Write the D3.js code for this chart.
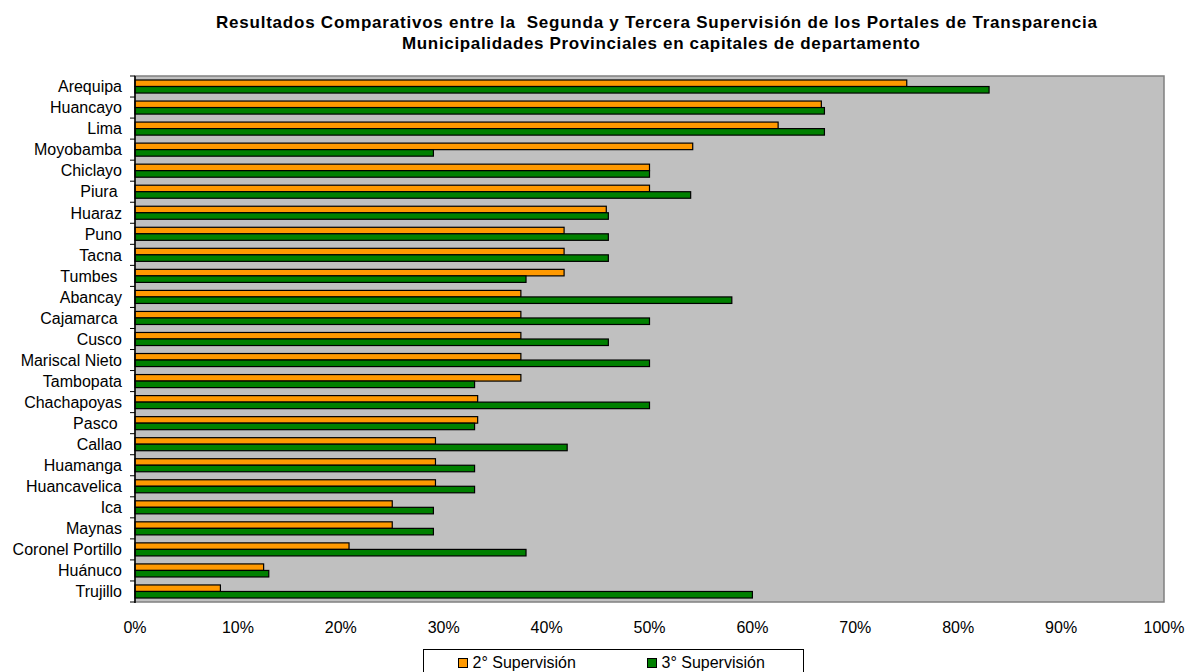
<!DOCTYPE html>
<html>
<head>
<meta charset="utf-8">
<script src="https://cdn.jsdelivr.net/npm/d3@7"></script>
<style>
  body { margin: 0; background: #fff; }
  svg { font-family: "Liberation Sans", Arial, sans-serif; }
</style>
</head>
<body>
<div id="chart"></div>
<script>
// municipalidades (orden del grafico, de arriba a abajo)
var ciudades = ["Arequipa", "Huancayo", "Lima", "Moyobamba", "Chiclayo", "Piura ", "Huaraz", "Puno", "Tacna", "Tumbes ",
  "Abancay", "Cajamarca ", "Cusco", "Mariscal Nieto", "Tambopata", "Chachapoyas", "Pasco ", "Callao", "Huamanga",
  "Huancavelica", "Ica", "Maynas", "Coronel Portillo", "Huánuco", "Trujillo"];
var segunda = [75, 66.7, 62.5, 54.2, 50, 50, 45.8, 41.7, 41.7, 41.7,
  37.5, 37.5, 37.5, 37.5, 37.5, 33.3, 33.3, 29.2, 29.2,
  29.2, 25, 25, 20.8, 12.5, 8.3];
var tercera = [83, 67, 67, 29, 50, 54, 46, 46, 46, 38,
  58, 50, 46, 50, 33, 50, 33, 42, 33,
  33, 29, 29, 38, 13, 60];
var ticksX = [0, 10, 20, 30, 40, 50, 60, 70, 80, 90, 100];
var series = ["2° Supervisión", "3° Supervisión"];
var colores = ["#FF9900", "#008000"];

var W = 1187, H = 672;
var mL = 135, mR = 1164, mT = 76, mB = 602;

var svg = d3.select("#chart").append("svg")
  .attr("width", W).attr("height", H);

// titulo
svg.append("text")
  .attr("x", 216).attr("y", 28)
  .attr("font-weight", "bold").attr("font-size", "17px")
  .attr("textLength", 881).attr("lengthAdjust", "spacing")
  .style("white-space", "pre")
  .text("Resultados Comparativos entre la  Segunda y Tercera Supervisión de los Portales de Transparencia");
svg.append("text")
  .attr("x", 402).attr("y", 49)
  .attr("font-weight", "bold").attr("font-size", "17px")
  .attr("textLength", 518).attr("lengthAdjust", "spacing")
  .text("Municipalidades Provinciales en capitales de departamento");

var x = d3.scaleLinear().domain([0, 100]).range([mL, mR]);
var y = d3.scaleBand().domain(ciudades).range([mT, mB]);

// fondo del area de trazado
svg.append("rect")
  .attr("x", mL).attr("y", mT)
  .attr("width", mR - mL).attr("height", mB - mT)
  .attr("fill", "#C0C0C0")
  .attr("stroke", "#808080").attr("stroke-width", 1.5);

var bw = y.bandwidth();
var barH = bw * 0.31;
var off = bw * 0.19;

var g = svg.append("g");
ciudades.forEach(function(c, i) {
  g.append("rect")
    .attr("x", x(0)).attr("y", y(c) + off)
    .attr("width", x(segunda[i]) - x(0)).attr("height", barH)
    .attr("fill", colores[0]).attr("stroke", "#000").attr("stroke-width", 1.2);
  g.append("rect")
    .attr("x", x(0)).attr("y", y(c) + off + barH)
    .attr("width", x(tercera[i]) - x(0)).attr("height", barH)
    .attr("fill", colores[1]).attr("stroke", "#000").attr("stroke-width", 1.2);
});

// eje vertical
svg.append("line")
  .attr("x1", mL).attr("x2", mL).attr("y1", mT).attr("y2", mB + 1)
  .attr("stroke", "#000").attr("stroke-width", 1.5);
var bordes = ciudades.map(function(c) { return y(c); }).concat([mB]);
svg.selectAll(".tk").data(bordes).enter().append("line")
  .attr("x1", mL - 5).attr("x2", mL)
  .attr("y1", function(d) { return d; }).attr("y2", function(d) { return d; })
  .attr("stroke", "#000").attr("stroke-width", 1);

svg.selectAll(".lab").data(ciudades).enter().append("text")
  .attr("x", 122)
  .attr("y", function(d) { return y(d) + bw / 2; })
  .attr("dy", "0.36em")
  .attr("text-anchor", "end")
  .attr("font-size", "16px")
  .attr("fill", "#000")
  .style("white-space", "pre")
  .text(function(d) { return d; });

// etiquetas eje x
svg.selectAll(".xl").data(ticksX).enter().append("text")
  .attr("x", function(d) { return x(d); })
  .attr("y", 633)
  .attr("text-anchor", "middle")
  .attr("font-size", "16px")
  .text(function(d) { return d + "%"; });

// leyenda
var lg = svg.append("g");
lg.append("rect")
  .attr("x", 423.5).attr("y", 649.5).attr("width", 380).attr("height", 30)
  .attr("fill", "#fff").attr("stroke", "#000").attr("stroke-width", 1);
var lx = [458.5, 647.5];
series.forEach(function(s, i) {
  lg.append("rect")
    .attr("x", lx[i]).attr("y", 658.5).attr("width", 9).attr("height", 9)
    .attr("fill", colores[i]).attr("stroke", "#000").attr("stroke-width", 1);
  lg.append("text")
    .attr("x", lx[i] + 14).attr("y", 668)
    .attr("font-size", "16px")
    .text(s);
});
</script>
</body>
</html>
